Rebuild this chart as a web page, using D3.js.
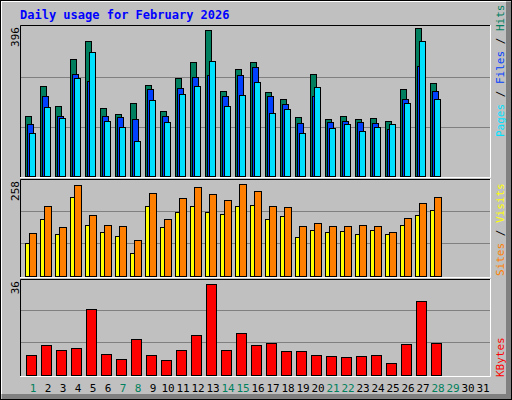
<!DOCTYPE html>
<html><head><meta charset="utf-8">
<script src="https://cdn.jsdelivr.net/npm/d3@7/dist/d3.min.js"></script>
<style>body{margin:0;background:#fff}svg{display:block}</style>
</head><body>
<script>
const days = d3.range(1, 32);
const weekendDays = [1,7,8,14,15,21,22,28,29];
const hits   = [160,240,187,312,360,181,165,195,243,173,261,304,390,227,285,304,224,205,157,272,152,160,152,154,146,232,396,248];
const files  = [138,213,160,272,254,160,157,152,232,160,235,264,270,213,269,291,213,192,141,213,144,146,144,141,125,205,294,227];
const pages  = [114,184,154,261,331,146,130,93,203,144,219,240,307,187,216,251,168,178,114,237,128,138,120,130,138,195,360,205];
const sites  = [86,149,110,207,133,115,104,60,183,128,168,183,168,162,183,186,149,157,102,120,115,118,110,120,110,133,160,173];
const visits = [112,183,128,239,160,133,131,94,218,149,205,233,215,199,241,223,183,181,131,139,131,131,133,131,115,152,191,207];
const kbytes = [7.3,11.0,9.2,9.9,24.2,7.7,5.9,13.2,7.3,5.5,9.2,14.7,33.4,9.2,15.4,11.0,11.8,8.8,8.8,7.3,7.0,6.6,7.0,7.3,4.4,11.4,27.2,11.8];
const maxLabels = ["396","258","36"];
const maxVals = [396,258,36];

const W=512,H=400;
const svg=d3.select("body").append("svg").attr("width",W).attr("height",H);
svg.append("rect").attr("x",0.5).attr("y",0.5).attr("width",W-1).attr("height",H-1).attr("fill","#c0c0c0").attr("stroke","#000");
svg.append("rect").attr("x",W-6).attr("y",2).attr("width",5).attr("height",H-3).attr("fill","#808080");
svg.append("rect").attr("x",2).attr("y",H-6).attr("width",W-3).attr("height",5).attr("fill","#808080");
svg.append("line").attr("x1",1).attr("x2",W-6).attr("y1",1.5).attr("y2",1.5).attr("stroke","#fff");
svg.append("line").attr("x1",1.5).attr("x2",1.5).attr("y1",1).attr("y2",H-6).attr("stroke","#fff");

svg.append("text").attr("x",20).attr("y",19).attr("fill","#0000ff").attr("font-family","DejaVu Sans Mono").attr("font-weight","bold").attr("font-size",12).text("Daily usage for February 2026");

const x=d3.scaleLinear().domain([1,2]).range([25,40]);
const panels=[{top:25,bot:176,ymax:28},{top:179,bot:276,ymax:178},{top:279,bot:375,ymax:277}];
panels.forEach((p,i)=>{
  const g=svg.append("g");
  g.append("rect").attr("x",20).attr("y",p.top).attr("width",470).attr("height",p.bot-p.top+2).attr("fill","#c0c0c0");
  const y=d3.scaleLinear().domain([0,maxVals[i]]).range([p.bot,p.ymax]);
  [1/3,2/3].forEach(f=>g.append("line").attr("x1",21).attr("x2",490).attr("y1",Math.round(y(maxVals[i]*f))+0.5).attr("y2",Math.round(y(maxVals[i]*f))+0.5).attr("stroke","#808080"));
  p.y=y;
  g.append("path").attr("d",`M20.5,${p.bot+2}V${p.top+0.5}H490`).attr("stroke","#000").attr("fill","none");
  g.append("path").attr("d",`M20,${p.bot+1.5}H490.5V${p.top}`).attr("stroke","#fff").attr("fill","none");
  g.append("text").attr("transform",`translate(19,${p.top+2}) rotate(-90)`).attr("text-anchor","end").attr("font-family","DejaVu Sans Mono").attr("font-size",11).attr("fill","#000").text(maxLabels[i]);
});
function bars(data,p,off,w,color){
  svg.append("g").selectAll("rect").data(data).join("rect")
   .attr("x",(d,i)=>x(i+1)+off+0.5).attr("y",d=>Math.round(p.y(d))+0.5)
   .attr("width",w).attr("height",d=>p.bot-Math.round(p.y(d)))
   .attr("fill",color).attr("stroke","#000");
}
bars(hits,panels[0],0,6,"#007f5f");
bars(files,panels[0],2,6,"#0040ff");
bars(pages,panels[0],4,6,"#00e0ff");
bars(sites,panels[1],0,5,"#ffff00");
bars(visits,panels[1],4,7,"#ff8000");
bars(kbytes,panels[2],1,10,"#ff0000");

svg.append("g").selectAll("text").data(days).join("text")
 .attr("x",d=>x(d)+8).attr("y",392).attr("text-anchor","middle")
 .attr("font-family","DejaVu Sans Mono").attr("font-size",11)
 .attr("fill",d=>weekendDays.includes(d)?"#00805c":"#000").text(d=>d);

function side(parts,yEnd){
  const t=svg.append("text").attr("transform",`translate(504,${yEnd}) rotate(-90)`).attr("font-family","DejaVu Sans Mono").attr("font-size",11);
  parts.forEach(([s,c])=>t.append("tspan").attr("fill",c).text(s));
}
side([["Pages","#00e0ff"],[" / ","#000"],["Files","#0040ff"],[" / ","#000"],["Hits","#007f5f"]],137);
side([["Sites","#ff8000"],[" / ","#000"],["Visits","#ffff00"]],276);
side([["KBytes","#ff0000"]],377);
</script>
</body></html>
